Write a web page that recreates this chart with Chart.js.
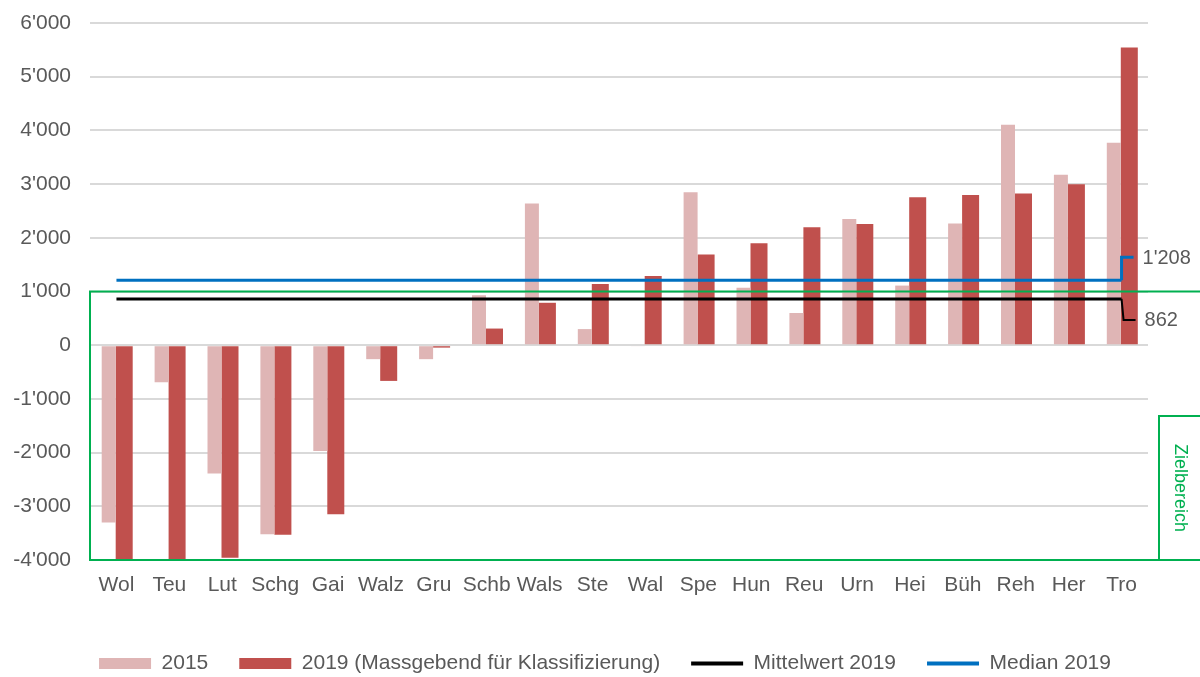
<!DOCTYPE html>
<html>
<head>
<meta charset="utf-8">
<script src="https://cdn.jsdelivr.net/npm/chart.js@4/dist/chart.umd.min.js"></script>
<style>
  html, body { margin: 0; padding: 0; background: #fff; overflow: hidden; }
  #wrap { position: relative; width: 1200px; height: 677px; }
</style>
</head>
<body>
<div id="wrap"><canvas id="myChart"></canvas></div>
<script>
// Daten
const categories = ['Wol', 'Teu', 'Lut', 'Schg', 'Gai', 'Walz', 'Gru', 'Schb', 'Wals', 'Ste',
                    'Wal', 'Spe', 'Hun', 'Reu', 'Urn', 'Hei', 'Büh', 'Reh', 'Her', 'Tro'];
const values2015 = [-3300, -690, -2390, -3520, -1970, -260, -260, 930, 2640, 300,
                    -20, 2850, 1070, 600, 2350, 1110, 2265, 4105, 3175, 3770];
const values2019 = [-4030, -4000, -3960, -3530, -3150, -665, -45, 310, 790, 1140,
                    1290, 1690, 1900, 2195, 2255, 2755, 2795, 2825, 2995, 5545];
const mittelwert2019 = 862;
const median2019 = 1208;
const yTicks = [-4000, -3000, -2000, -1000, 0, 1000, 2000, 3000, 4000, 5000, 6000];
const zielbereich = [-4000, 1000];

const grey = '#595959';
const fontFam = '"Liberation Sans", Arial, sans-serif';

function fmt(v) {
  let s = Math.abs(v).toString().replace(/\B(?=(\d{3})+(?!\d))/g, "'");
  return (v < 0 ? '-' : '') + s;
}

// Leader-Linien, Beschriftungen und Zielbereich
const annotPlugin = {
  id: 'annot',
  afterLayout(chart) {
    // Legende etwas nach rechts schieben (zentriert auf ganze Breite)
    const shift = (chart.width - chart.legend.right) / 2 + 5;
    chart.legend.left += shift;
    chart.legend.right += shift;
  },
  afterDatasetsDraw(chart) {
    const ctx = chart.ctx;
    const x = chart.scales.x, y = chart.scales.y;
    const area = chart.chartArea;
    const last = categories.length - 1;
    const xe = x.getPixelForValue(last);
    ctx.save();

    // Zielbereich
    ctx.strokeStyle = '#00b050';
    ctx.lineWidth = 2;
    const yTop = y.getPixelForValue(zielbereich[1]);
    const yBot = y.getPixelForValue(zielbereich[0]);
    ctx.strokeRect(area.left, yTop, chart.width + 10 - area.left, yBot - yTop);
    const bx = area.right + 11;
    const by = yBot - 144;
    ctx.beginPath();
    ctx.moveTo(bx, yBot);
    ctx.lineTo(bx, by);
    ctx.lineTo(chart.width + 5, by);
    ctx.stroke();
    ctx.fillStyle = '#00b050';
    ctx.font = '18px ' + fontFam;
    ctx.textAlign = 'center';
    ctx.textBaseline = 'middle';
    ctx.translate(bx + 21, (by + yBot) / 2);
    ctx.rotate(Math.PI / 2);
    ctx.fillText('Zielbereich', 0, 0);
    ctx.setTransform(1, 0, 0, 1, 0, 0);

    // Median
    const ym = y.getPixelForValue(median2019);
    ctx.strokeStyle = '#0070c0';
    ctx.lineWidth = 3;
    ctx.beginPath();
    ctx.moveTo(xe, ym);
    ctx.lineTo(xe, ym - 23);
    ctx.lineTo(xe + 12, ym - 23);
    ctx.stroke();

    // Mittelwert
    const yw = y.getPixelForValue(mittelwert2019);
    ctx.strokeStyle = '#000';
    ctx.lineWidth = 2;
    ctx.beginPath();
    ctx.moveTo(xe, yw);
    ctx.lineTo(xe + 2, yw + 21);
    ctx.lineTo(xe + 14, yw + 21);
    ctx.stroke();

    ctx.fillStyle = grey;
    ctx.font = '20px ' + fontFam;
    ctx.textAlign = 'left';
    ctx.fillText(fmt(median2019), xe + 21, ym - 22);
    ctx.fillText(fmt(mittelwert2019), xe + 23, yw + 22);
    ctx.restore();
  }
};

const ctx = document.getElementById('myChart').getContext('2d');
const chart = new Chart(ctx, {
  type: 'bar',
  data: {
    labels: categories,
    datasets: [{
      label: '2015',
      data: values2015,
      backgroundColor: '#dfb5b5',
      borderColor: '#dfb5b5',
      barPercentage: 0.903
    }, {
      label: '2019 (Massgebend für Klassifizierung)',
      data: values2019,
      backgroundColor: '#c0504d',
      borderColor: '#c0504d',
      barPercentage: 1.097
    }, {
      type: 'line',
      label: 'Mittelwert 2019',
      data: categories.map(() => mittelwert2019),
      borderColor: '#000000',
      backgroundColor: '#000000',
      borderWidth: 3,
      pointRadius: 0,
      order: -1
    }, {
      type: 'line',
      label: 'Median 2019',
      data: categories.map(() => median2019),
      borderColor: '#0070c0',
      backgroundColor: '#0070c0',
      borderWidth: 3,
      pointRadius: 0,
      order: -2
    }]
  },
  options: {
    responsive: true,
    maintainAspectRatio: false,
    animation: false,
    categoryPercentage: 0.586,
    layout: { padding: { top: 23, right: 52, left: 0, bottom: -7 } },
    plugins: {
      tooltip: { enabled: false },
      legend: {
        position: 'bottom',
        labels: {
          usePointStyle: true,
          pointStyleWidth: 52,
          boxHeight: 11,
          padding: 31,
          color: grey,
          font: { family: fontFam, size: 21 },
          generateLabels: function(chart) {
            return chart.data.datasets.map(function(ds, i) {
              const isLine = ds.type === 'line';
              return {
                text: ds.label,
                fillStyle: ds.backgroundColor,
                strokeStyle: ds.borderColor,
                lineWidth: isLine ? 4 : 0,
                pointStyle: isLine ? 'line' : 'rect',
                hidden: false,
                datasetIndex: i,
                fontColor: grey
              };
            });
          }
        }
      }
    },
    scales: {
      x: {
        grid: { display: false, drawTicks: false },
        border: { display: false },
        ticks: {
          color: grey, font: { family: fontFam, size: 21 },
          padding: 13, autoSkip: false, maxRotation: 0
        },
        afterFit: function(scale) { scale.height = 62; }
      },
      y: {
        min: yTicks[0],
        max: yTicks[yTicks.length - 1],
        afterBuildTicks: function(scale) {
          scale.ticks = yTicks.map(v => ({ value: v }));
        },
        grid: { color: '#d9d9d9', lineWidth: 2, drawTicks: false },
        border: { display: false },
        ticks: {
          color: grey, font: { family: fontFam, size: 21 },
          padding: 19,
          callback: v => fmt(v)
        },
        afterFit: function(scale) {
          scale.width = 90;
          scale.paddingTop = 0;
          scale.paddingBottom = 0;
        }
      }
    }
  },
  plugins: [annotPlugin]
});
</script>
</body>
</html>
